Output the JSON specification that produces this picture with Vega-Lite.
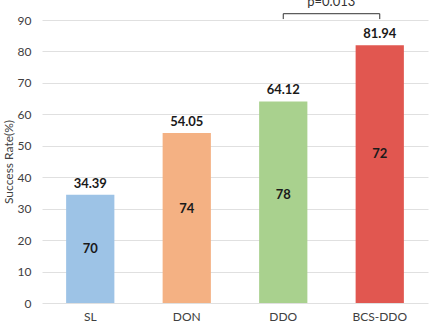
{
  "$schema": "https://vega.github.io/schema/vega-lite/v6.json",
  "width": 386,
  "height": 283,
  "autosize": {"type": "none"},
  "padding": {"left": 42, "top": 20, "right": 7, "bottom": 21},
  "config": {
    "view": {"stroke": null},
    "font": "Lato",
    "axis": {"labelFont": "Lato", "titleFont": "Lato", "labelColor": "#404040", "titleColor": "#404040"},
    "axisY": {"titleFontSize": 12, "titleFontWeight": "normal", "titlePadding": 2, "tickCount": 10,
              "labelOverlap": false, "ticks": false, "domain": false, "gridColor": "#E0E0E0",
              "labelFontSize": 12, "labelPadding": 11}
  },
  "datasets": {
    "bars": [
      {"method": "SL", "rate": 34.39, "n": 70, "npos": 17.2, "color": "#9DC3E6"},
      {"method": "DON", "rate": 54.05, "n": 74, "npos": 30, "color": "#F4B183"},
      {"method": "DDO", "rate": 64.12, "n": 78, "npos": 34.4, "color": "#A9D18E"},
      {"method": "BCS-DDO", "rate": 81.94, "n": 72, "npos": 47.5, "color": "#E15750"}
    ],
    "bracket": [
      {"from": "DDO", "to": "BCS-DDO", "top": 92, "bottom": 90.3, "label": "p=0.013", "labely": 95.7}
    ]
  },
  "encoding": {
    "x": {
      "field": "method", "type": "nominal", "sort": ["SL", "DON", "DDO", "BCS-DDO"],
      "scale": {"domain": ["SL", "DON", "DDO", "BCS-DDO"], "paddingInner": 0.5, "paddingOuter": 0.25},
      "axis": {"title": null, "labelAngle": 0, "ticks": false, "domain": false, "labelFontSize": 12, "labelPadding": 8}
    }
  },
  "layer": [
    {
      "data": {"name": "bars"},
      "mark": {"type": "bar", "clip": false},
      "encoding": {
        "y": {
          "field": "rate", "type": "quantitative",
          "scale": {"domain": [0, 90]},
          "axis": {"title": "Success Rate(%)", "values": [0,10,20,30,40,50,60,70,80,90]}
        },
        "color": {"field": "color", "type": "nominal", "scale": null}
      }
    },
    {
      "data": {"name": "bars"},
      "mark": {"type": "text", "fontWeight": "bold", "fontSize": 13, "baseline": "bottom", "dy": -4, "color": "#1a1a1a"},
      "encoding": {
        "y": {"field": "rate", "type": "quantitative", "axis": {"title": "Success Rate(%)", "values": [0,10,20,30,40,50,60,70,80,90]}},
        "text": {"field": "rate", "type": "quantitative", "format": ".2f"}
      }
    },
    {
      "data": {"name": "bars"},
      "mark": {"type": "text", "fontWeight": "bold", "fontSize": 13, "baseline": "middle", "color": "#1a1a1a"},
      "encoding": {
        "y": {"field": "npos", "type": "quantitative", "axis": {"title": "Success Rate(%)", "values": [0,10,20,30,40,50,60,70,80,90]}},
        "text": {"field": "n", "type": "quantitative"}
      }
    },
    {
      "data": {"name": "bracket"},
      "mark": {"type": "rule", "color": "#333333", "strokeWidth": 1, "clip": false},
      "encoding": {
        "x": {"field": "from", "type": "nominal", "bandPosition": 0.5},
        "x2": {"field": "to", "bandPosition": 0.5},
        "y": {"field": "top", "type": "quantitative", "axis": {"title": "Success Rate(%)", "values": [0,10,20,30,40,50,60,70,80,90]}}
      }
    },
    {
      "data": {"name": "bracket"},
      "mark": {"type": "rule", "color": "#333333", "strokeWidth": 1, "clip": false},
      "encoding": {
        "x": {"field": "from", "type": "nominal", "bandPosition": 0.5},
        "y": {"field": "top", "type": "quantitative", "axis": {"title": "Success Rate(%)", "values": [0,10,20,30,40,50,60,70,80,90]}},
        "y2": {"field": "bottom"}
      }
    },
    {
      "data": {"name": "bracket"},
      "mark": {"type": "rule", "color": "#333333", "strokeWidth": 1, "clip": false},
      "encoding": {
        "x": {"field": "to", "type": "nominal", "bandPosition": 0.5},
        "y": {"field": "top", "type": "quantitative", "axis": {"title": "Success Rate(%)", "values": [0,10,20,30,40,50,60,70,80,90]}},
        "y2": {"field": "bottom"}
      }
    },
    {
      "data": {"name": "bracket"},
      "mark": {"type": "text", "fontSize": 13, "baseline": "middle", "color": "#333333", "dx": 48},
      "encoding": {
        "x": {"field": "from", "type": "nominal", "bandPosition": 0.5},
        "y": {"field": "labely", "type": "quantitative", "axis": {"title": "Success Rate(%)", "values": [0,10,20,30,40,50,60,70,80,90]}},
        "text": {"field": "label"}
      }
    }
  ]
}
